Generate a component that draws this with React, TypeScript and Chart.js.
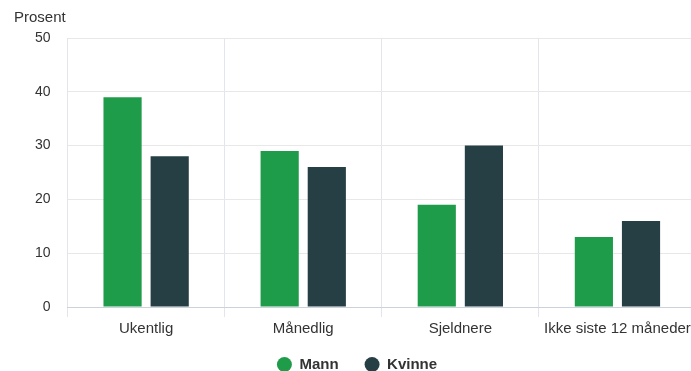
import React, { useEffect, useRef } from "react";
import { Chart, registerables } from "chart.js";

Chart.register(...registerables);

const categories = ["Ukentlig", "Månedlig", "Sjeldnere", "Ikke siste 12 måneder"];
const mann = [39, 29, 19, 13];
const kvinne = [28, 26, 30, 16];
const yTicks = [0, 10, 20, 30, 40, 50];
const yTitle = "Prosent";

const FONT = "'Liberation Sans', Arial, sans-serif";

const prosentPlugin = {
  id: "prosentTitle",
  beforeDraw(chart: any) {
    const lg = chart.legend;
    if (lg && !lg._adj) {
      lg._adj = true;
      lg.options.labels.padding = 26;
      lg.top -= 10;
      lg.bottom -= 10;
      lg.left -= 10;
      lg.right -= 10;
    }
  },
  afterDraw(chart: any) {
    const ctx = chart.ctx;
    ctx.save();
    ctx.font = `15px ${FONT}`;
    ctx.fillStyle = "#333333";
    ctx.textAlign = "left";
    ctx.textBaseline = "middle";
    ctx.fillText(yTitle, 14, 18);
    ctx.restore();
  },
};

export default function App() {
  const ref = useRef<HTMLCanvasElement | null>(null);
  useEffect(() => {
    document.body.style.margin = "0";
    const chart = new Chart(ref.current as HTMLCanvasElement, {
      type: "bar",
      data: {
        labels: categories,
        datasets: [
          { label: "Mann", data: mann, backgroundColor: "#1f9c4a", borderWidth: 0 },
          { label: "Kvinne", data: kvinne, backgroundColor: "#263f45", borderWidth: 0 },
        ],
      },
      options: {
        responsive: false,
        animation: false,
        layout: { padding: { left: 18, top: 38, right: 0, bottom: 0 } },
        datasets: { bar: { categoryPercentage: 0.6, barPercentage: 0.81 } },
        scales: {
          x: {
            grid: { color: "#e4e4ec", tickLength: 10, offset: true },
            border: { color: "#ccd2dc" },
            ticks: {
              color: "#333333",
              padding: 3,
              font: { family: FONT, size: 15 },
            },
          },
          y: {
            min: 0,
            max: 50,
            afterBuildTicks: (axis: any) => {
              axis.ticks = yTicks.map((v) => ({ value: v }));
            },
            grid: { color: "#e8e8e8", drawTicks: false },
            border: { display: false },
            ticks: {
              color: "#333333",
              padding: 17,
              font: { family: FONT, size: 14 },
            },
          },
        },
        plugins: {
          legend: {
            position: "bottom",
            labels: {
              usePointStyle: true,
              pointStyle: "circle",
              boxWidth: 15,
              boxHeight: 10.6,
              padding: 16,
              color: "#333333",
              font: { family: FONT, size: 15, weight: "bold" },
            },
          },
          tooltip: { enabled: false },
        },
      },
      plugins: [prosentPlugin],
    } as any);
    return () => chart.destroy();
  }, []);
  return (
    <div style={{ width: 691, height: 371, overflow: "hidden" }}>
      <canvas ref={ref} width={696} height={382} style={{ display: "block" }} />
    </div>
  );
}
